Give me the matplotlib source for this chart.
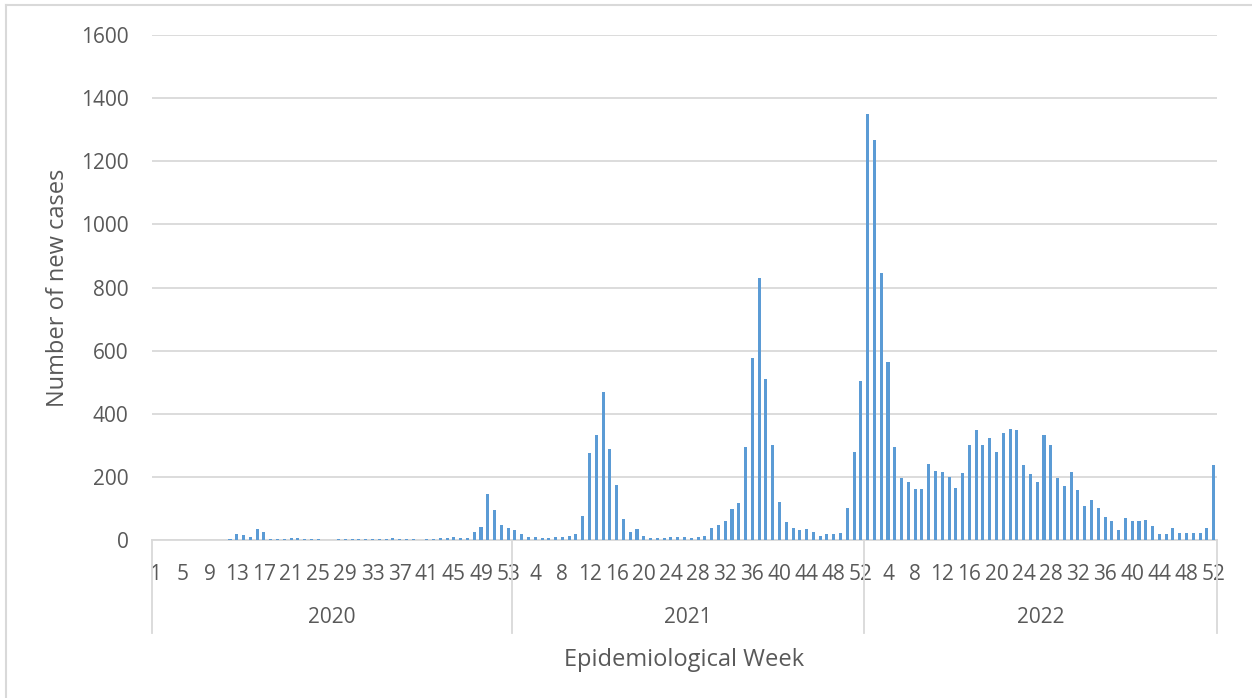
import numpy as np
import matplotlib.pyplot as plt

# ==============================================================================
# DATA — weekly new cases per epidemiological week
# ==============================================================================
years = ["2020", "2021", "2022"]

cases_2020 = [0, 0, 0, 0, 0, 0, 0, 0, 0, 0, 0, 2, 20, 16, 11, 36, 24, 3, 3, 3,
              6, 6, 3, 3, 3, 0, 0, 3, 3, 3, 3, 3, 3, 3, 3, 6, 3, 3, 3, 0,
              3, 3, 6, 7, 10, 7, 7, 24, 42, 147, 96, 49, 37]
cases_2021 = [33, 20, 11, 9, 5, 5, 8, 8, 13, 18, 76, 275, 334, 468, 287, 174,
              68, 25, 35, 14, 5, 5, 5, 8, 8, 8, 5, 8, 13, 39, 46, 60, 98, 118,
              296, 578, 831, 511, 300, 119, 56, 39, 31, 35, 26, 14, 18, 18, 22,
              102, 279, 503]
cases_2022 = [1350, 1266, 845, 565, 295, 195, 183, 161, 161, 240, 220, 216, 199,
              166, 212, 300, 347, 300, 322, 280, 339, 351, 347, 237, 208, 183,
              334, 300, 195, 170, 216, 157, 107, 128, 102, 73, 60, 31, 69, 60,
              60, 64, 43, 18, 18, 39, 22, 22, 22, 22, 39, 237]

series = [cases_2020, cases_2021, cases_2022]
weeks = [list(range(1, len(s) + 1)) for s in series]

# ==============================================================================
# SETTINGS
# ==============================================================================
bar_color  = "#5B9BD5"
text_color = "#595959"
grid_color = "#D9D9D9"
plt.rcParams["font.family"] = ["Open Sans", "DejaVu Sans"]

values = np.concatenate(series)
week_labels = np.concatenate(weeks)
x = np.arange(len(values))

W, H = 1252, 698
fig = plt.figure(figsize=(W / 100, H / 100), dpi=100)
ax = fig.add_axes([152 / W, (H - 540) / H, (1217 - 152) / W, (540 - 35) / H])

ax.bar(x, values, width=0.45, color=bar_color, zorder=3)

ax.set_xlim(-0.5, len(values) - 0.5)
ax.set_ylim(0, 1600)
ax.set_yticks(np.arange(0, 1601, 200))
ax.yaxis.grid(True, color=grid_color, lw=1.3, zorder=0)
ax.tick_params(axis="y", length=0, pad=17, labelsize=15, labelcolor=text_color)

tick_pos = x[::4]
ax.set_xticks(tick_pos)
ax.set_xticklabels([str(w) for w in week_labels[::4]])
ax.tick_params(axis="x", length=0, pad=17, labelsize=15, labelcolor=text_color)

for s in ["top", "right", "left"]:
    ax.spines[s].set_visible(False)
ax.spines["bottom"].set_color(grid_color)
ax.spines["bottom"].set_linewidth(1.3)

# two-level category axis: year groups with separators
trans = ax.get_xaxis_transform()
edges = np.cumsum([0] + [len(s) for s in series]) - 0.5
for e in edges:
    ax.plot([e, e], [0, -0.184], transform=trans, color=grid_color,
            lw=1.3, clip_on=False)
for yr, a, b in zip(years, edges[:-1], edges[1:]):
    ax.text((a + b) / 2, -0.154, yr, transform=trans, ha="center",
            va="center", fontsize=15, color=text_color)

ax.set_xlabel("Epidemiological Week", fontsize=17, color=text_color)
ax.xaxis.set_label_coords(0.5, -0.213)
ax.set_ylabel("Number of new cases", fontsize=17, color=text_color)
ax.yaxis.set_label_coords((70 - 152) / (1217 - 152), 0.5)

# light outer frame of the chart area
fig.add_artist(plt.Line2D([6 / W, 6 / W], [0, 1 - 5 / H],
                          transform=fig.transFigure, color=grid_color, lw=1.5))
fig.add_artist(plt.Line2D([6 / W, 1], [1 - 5 / H, 1 - 5 / H],
                          transform=fig.transFigure, color=grid_color, lw=1.5))

fig.savefig("out.png", dpi=100)
